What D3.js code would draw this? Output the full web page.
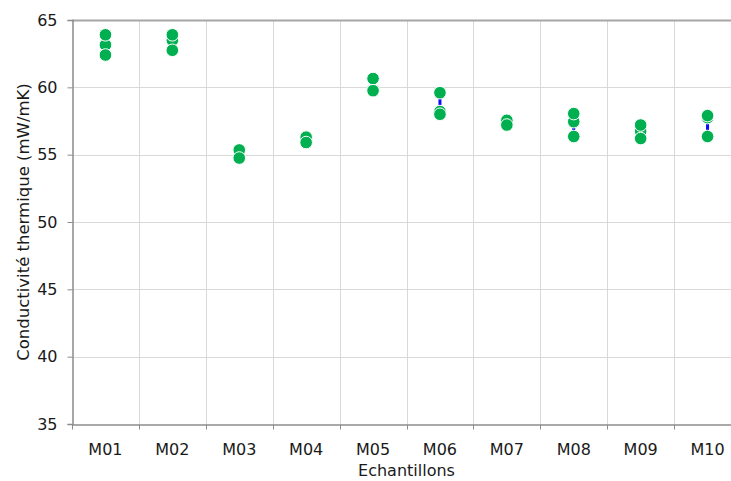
<!DOCTYPE html>
<html lang="fr">
<head>
   <meta charset="UTF-8">
   <title>Conductivité thermique</title>
   <script src="https://cdn.jsdelivr.net/npm/d3@7"></script>
   <style>
      body { margin: 0; background: #fff; }
      text { font-family: "DejaVu Sans", sans-serif; fill: #1a1a1a; }
   </style>
</head>
<body>
   <svg width="731" height="481"></svg>
   <script>
       // data
       const categories = ["M01", "M02", "M03", "M04", "M05", "M06", "M07", "M08", "M09", "M10"];
       const essai1 = [63.9, 63.9, 55.35, 56.3, 60.65, 59.6, 57.55, 58.05, 57.2, 57.9];
       const essai2 = [63.15, 63.5, 54.8, 56.0, 59.8, 58.2, 57.25, 57.45, 56.75, 57.75];
       const essai3 = [62.4, 62.75, 54.75, 55.9, 59.75, 58.0, 57.2, 56.35, 56.2, 56.35];
       const yTicks = [35, 40, 45, 50, 55, 60, 65];

       const svg = d3.select('svg');
       const mLeft = 72, mRight = 741, mTop = 20, mBottom = 424;

       const x = d3.scaleBand().domain(categories).range([mLeft, mRight]);
       const y = d3.scaleLinear().domain([35, 65]).range([mBottom, mTop]);

       // gridlines
       svg.append('g')
           .selectAll('line')
           .data(yTicks.slice(1, -1))
           .join('line')
           .attr('x1', mLeft).attr('x2', mRight)
           .attr('y1', d => Math.round(y(d)) + 0.5).attr('y2', d => Math.round(y(d)) + 0.5)
           .attr('stroke', '#d9d9d9');

       svg.append('g')
           .selectAll('line')
           .data(categories.slice(1))
           .join('line')
           .attr('x1', d => Math.round(x(d)) + 0.5).attr('x2', d => Math.round(x(d)) + 0.5)
           .attr('y1', mTop).attr('y2', mBottom)
           .attr('stroke', '#d9d9d9');

       // top border
       svg.append('line')
           .attr('x1', mLeft).attr('x2', mRight)
           .attr('y1', mTop + 0.5).attr('y2', mTop + 0.5)
           .attr('stroke', '#a6a6a6').attr('stroke-width', 2);

       // y axis
       const yAxis = svg.append('g')
           .attr('transform', `translate(${mLeft + 0.5},0)`)
           .call(d3.axisLeft(y).tickValues(yTicks).tickSize(5).tickPadding(10));
       yAxis.select('.domain').attr('stroke', '#8c8c8c').attr('stroke-width', 1.5);
       yAxis.selectAll('.tick line').attr('stroke', '#8c8c8c');
       yAxis.selectAll('.tick text').style('font-size', '16px').attr('fill', '#1a1a1a');

       // x axis (ticks at category boundaries)
       const xAxis = svg.append('g')
           .attr('transform', `translate(0,${mBottom + 0.5})`)
           .call(d3.axisBottom(x).tickSize(0).tickPadding(19));
       xAxis.select('.domain').attr('stroke', '#8c8c8c').attr('stroke-width', 1.5);
       xAxis.selectAll('.tick text').style('font-size', '16px').attr('fill', '#1a1a1a');
       xAxis.append('g')
           .selectAll('line')
           .data(categories)
           .join('line')
           .attr('x1', d => Math.round(x(d)) + 0.5).attr('x2', d => Math.round(x(d)) + 0.5)
           .attr('y1', 0).attr('y2', 5)
           .attr('stroke', '#8c8c8c');

       // axis titles
       svg.append('text')
           .attr('transform', `translate(29,${(mTop + mBottom) / 2}) rotate(-90)`)
           .attr('text-anchor', 'middle')
           .style('font-size', '16.5px')
           .text('Conductivité thermique (mW/mK)');

       svg.append('text')
           .attr('x', (mLeft + mRight) / 2)
           .attr('y', 476)
           .attr('text-anchor', 'middle')
           .style('font-size', '16px')
           .text('Echantillons');

       // blue min-max bars behind points
       const rows = categories.map((c, i) => ({ c, vals: [essai1[i], essai2[i], essai3[i]] }));
       svg.append('g')
           .selectAll('line')
           .data(rows)
           .join('line')
           .attr('x1', d => x(d.c) + x.bandwidth() / 2)
           .attr('x2', d => x(d.c) + x.bandwidth() / 2)
           .attr('y1', d => y(d3.max(d.vals)))
           .attr('y2', d => y(d3.min(d.vals)))
           .attr('stroke', '#0a0aff')
           .attr('stroke-width', 3);

       // points
       [essai2, essai1, essai3].forEach(serie => {
           svg.append('g')
               .selectAll('circle')
               .data(categories.map((c, i) => ({ c, v: serie[i] })))
               .join('circle')
               .attr('cx', d => x(d.c) + x.bandwidth() / 2)
               .attr('cy', d => y(d.v))
               .attr('r', 6.3)
               .attr('fill', '#00b050')
               .attr('stroke', '#ffffff')
               .attr('stroke-width', 1);
       });
   </script>
</body>
</html>
